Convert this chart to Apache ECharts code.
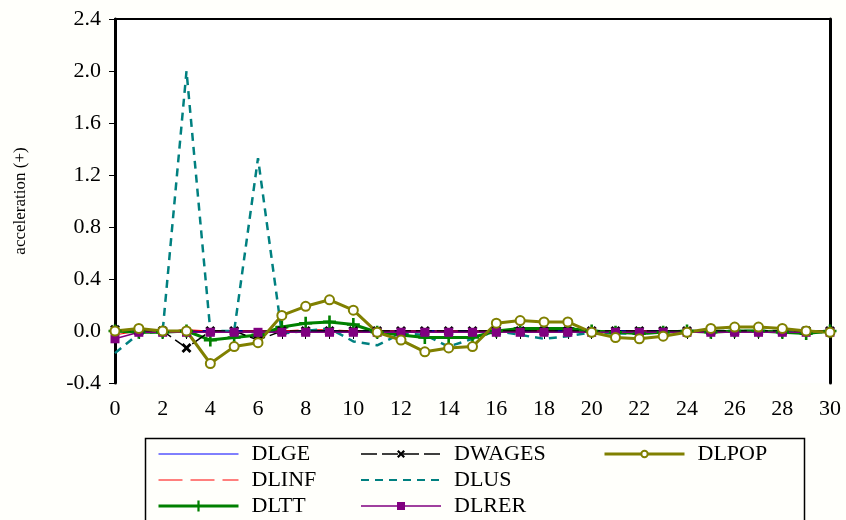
<!DOCTYPE html>
<html>
<head>
<meta charset="utf-8">
<script src="https://cdn.jsdelivr.net/npm/echarts@6/dist/echarts.min.js"></script>
<style>html,body{margin:0;padding:0;background:#fffffb;}#c{width:846px;height:520px;}</style>
</head>
<body>
<div id="c"></div>
<script>
var periods = [0,1,2,3,4,5,6,7,8,9,10,11,12,13,14,15,16,17,18,19,20,21,22,23,24,25,26,27,28,29,30];
var yTicks = {min: -0.4, max: 2.4, interval: 0.4};
var DLGE   = [0.0,0.0,0.0,0.0,0.0,0.0,0.0,0.0,0.0,0.0,0.0,0.0,0.0,0.0,0.0,0.0,0.0,0.0,0.0,0.0,0.0,0.0,0.0,0.0,0.0,0.0,0.0,0.0,0.0,0.0,0.0];
var DLINF  = [-0.03,0.0,0.0,0.01,0.0,0.0,0.0,0.0,0.01,0.01,0.0,0.0,0.0,0.0,0.0,0.0,0.0,0.0,0.0,0.0,0.0,0.0,0.0,0.0,0.0,0.0,0.0,0.0,0.0,0.0,0.0];
var DLTT   = [0.0,-0.01,-0.01,0.0,-0.07,-0.05,-0.03,0.03,0.06,0.07,0.05,-0.01,-0.03,-0.05,-0.05,-0.05,0.0,0.02,0.02,0.02,0.0,-0.01,-0.02,-0.01,0.0,-0.01,0.0,0.0,-0.01,-0.02,0.0];
var DWAGES = [0.01,0.0,0.0,-0.13,0.0,0.0,-0.07,0.0,0.0,0.0,0.0,0.0,0.0,0.0,0.0,0.0,0.0,0.0,0.0,0.0,0.0,0.0,0.0,0.0,0.0,0.0,0.0,0.0,0.0,0.0,0.0];
var DLUS   = [-0.17,-0.02,0.0,2.0,0.0,0.0,1.33,-0.02,0.0,0.02,-0.08,-0.11,-0.02,-0.03,-0.12,-0.06,0.0,-0.03,-0.06,-0.04,-0.01,-0.02,-0.02,-0.01,0.0,0.0,0.0,0.0,0.0,-0.01,-0.01];
var DLRER  = [-0.06,-0.01,-0.01,-0.01,-0.01,-0.01,-0.01,-0.01,-0.01,-0.01,-0.01,-0.01,-0.01,-0.01,-0.01,-0.01,-0.01,-0.01,-0.01,-0.01,-0.01,-0.01,-0.01,-0.01,-0.01,-0.01,-0.01,-0.01,-0.01,-0.01,-0.01];
var DLPOP  = [0.0,0.02,0.0,0.0,-0.25,-0.12,-0.09,0.12,0.19,0.24,0.16,-0.01,-0.07,-0.16,-0.13,-0.12,0.06,0.08,0.07,0.07,-0.01,-0.05,-0.06,-0.04,-0.01,0.02,0.03,0.03,0.02,0.0,-0.01];

function pairs(arr){ return periods.map(function(p,i){ return [p, arr[i]]; }); }

var serif = 'Liberation Serif';
var chart = echarts.init(document.getElementById('c'));
var xSym = 'path://M2,0 L5,3 L8,0 L10,2 L7,5 L10,8 L8,10 L5,7 L2,10 L0,8 L3,5 L0,2 Z';
var plusSym = 'path://M4,0 H6 V4 H10 V6 H6 V10 H4 V6 H0 V4 H4 Z';

var legendBase = {
  orient: 'vertical', top: 443, height: 120, padding: 0, itemWidth: 80, itemHeight: 10, itemGap: 4,
  textStyle: {fontFamily: serif, fontSize: 22, lineHeight: 22, color: '#000', padding: [0,0,0,8]},
  inactiveColor: '#000'
};
var noSym = {opacity: 0};

chart.setOption({
  backgroundColor: '#fffffb',
  animation: false,
  grid: {left: 115, right: 16, top: 19, bottom: 137, backgroundColor: '#ffffff', show: true, borderWidth: 0},
  xAxis: [{
    type: 'value', min: 0, max: 30, interval: 1,
    axisLine: {lineStyle: {color: '#000', width: 2}},
    axisTick: {inside: false, length: 8, lineStyle: {color: '#000', width: 1}},
    axisLabel: {fontFamily: serif, fontSize: 22, color: '#000', margin: 15,
      formatter: function(v){ return v % 2 === 0 ? String(v) : ''; }},
    splitLine: {show: false}
  }, {
    type: 'value', min: 0, max: 30, position: 'top',
    axisLine: {show: true, onZero: false, lineStyle: {color: '#000', width: 2}},
    axisTick: {show: false}, axisLabel: {show: false}, splitLine: {show: false}
  }],
  yAxis: [{
    type: 'value', min: yTicks.min, max: yTicks.max, interval: yTicks.interval,
    name: 'acceleration (+)', nameLocation: 'middle', nameGap: 86,
    nameTextStyle: {fontFamily: serif, fontSize: 17, color: '#000'},
    axisLine: {show: true, lineStyle: {color: '#000', width: 3}},
    axisTick: {inside: false, length: 6, lineStyle: {color: '#000', width: 1}},
    axisLabel: {fontFamily: serif, fontSize: 22, color: '#000', margin: 14,
      formatter: function(v){ return v.toFixed(1); }},
    splitLine: {show: false}
  }, {
    type: 'value', min: yTicks.min, max: yTicks.max, position: 'right',
    axisLine: {show: true, onZero: false, lineStyle: {color: '#000', width: 3}},
    axisTick: {show: false}, axisLabel: {show: false}, splitLine: {show: false}
  }],
  legend: [
    Object.assign({}, legendBase, {left: 157, itemHeight: 14, data: [
      {name: 'DLGE', itemStyle: noSym, lineStyle: {width: 1}},
      {name: 'DLINF', itemStyle: noSym, lineStyle: {width: 1}},
      {name: 'DLTT', lineStyle: {width: 3}}]}),
    Object.assign({}, legendBase, {left: 360, data: [
      {name: 'DWAGES', lineStyle: {width: 1.5}},
      {name: 'DLUS', itemStyle: noSym, lineStyle: {width: 2}},
      {name: 'DLRER', lineStyle: {width: 1.5}}]}),
    Object.assign({}, legendBase, {left: 603, itemHeight: 8, data: [
      {name: 'DLPOP', lineStyle: {width: 3}}]})
  ],
  graphic: [{
    type: 'rect', left: 143, top: 436, shape: {width: 659, height: 100},
    style: {fill: 'none', stroke: '#000', lineWidth: 1.5}, silent: true, z: 100
  }],
  series: [
    {name: 'DLGE', type: 'line', data: pairs(DLGE), symbol: 'none',
      lineStyle: {color: '#0000ff', width: 1}, itemStyle: {color: '#0000ff'}},
    {name: 'DLINF', type: 'line', data: pairs(DLINF), symbol: 'none',
      lineStyle: {color: '#ff0000', width: 1, type: [24, 8]}, itemStyle: {color: '#ff0000'}},
    {name: 'DLUS', type: 'line', data: pairs(DLUS), symbol: 'none',
      lineStyle: {color: '#008080', width: 2.5, type: [8, 6]}, itemStyle: {color: '#008080'}},
    {name: 'DLTT', type: 'line', data: pairs(DLTT), symbol: plusSym, symbolSize: 13,
      lineStyle: {color: '#008000', width: 3}, itemStyle: {color: '#008000'}},
    {name: 'DWAGES', type: 'line', data: pairs(DWAGES), symbol: xSym, symbolSize: 10,
      lineStyle: {color: '#000000', width: 1.5, type: [16, 5]}, itemStyle: {color: '#000000'}},
    {name: 'DLRER', type: 'line', data: pairs(DLRER), symbol: 'rect', symbolSize: 9,
      lineStyle: {color: '#800080', width: 1.5}, itemStyle: {color: '#800080'}},
    {name: 'DLPOP', type: 'line', data: pairs(DLPOP), symbol: 'circle', symbolSize: 9,
      lineStyle: {color: '#808000', width: 3},
      itemStyle: {color: '#ffffff', borderColor: '#808000', borderWidth: 2}}
  ]
});
</script>
</body>
</html>
